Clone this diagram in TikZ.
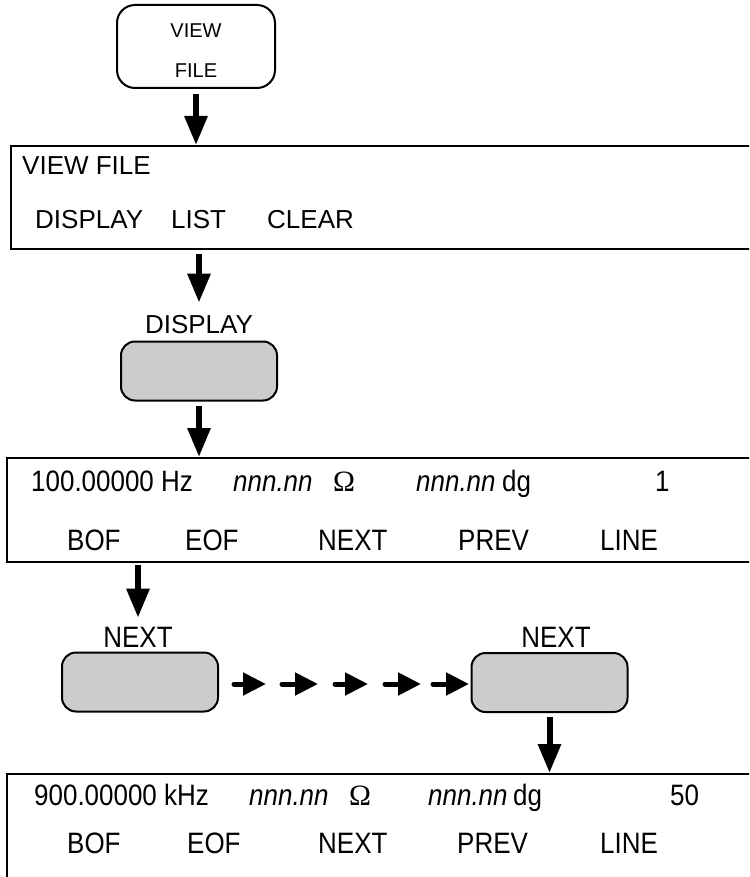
\documentclass[tikz,border=0pt]{standalone}
\usepackage{fontspec}
\setmainfont{Liberation Sans}
\newfontfamily\narrowfont[FakeStretch=0.88]{Liberation Sans}
\newfontfamily\omegafont{Liberation Serif}
\usepackage{tikz}
\usetikzlibrary{%
  arrows.meta,
  positioning,calc
}
\definecolor{keygray}{RGB}{204,204,204}
\tikzset{
  screen/.style={draw,line width=2pt,anchor=north west,inner sep=0pt},
  hardkey/.style={draw,line width=2pt,rounded corners=18pt,minimum width=158pt,minimum height=83pt,inner sep=0pt},
  softkey/.style={draw,line width=2pt,fill=keygray,rounded corners=14pt,minimum width=156pt,minimum height=59pt,inner sep=0pt},
  txt/.style={anchor=base west,inner sep=0pt,font=\fontsize{26}{30}\selectfont},
  lcd/.style={anchor=base west,inner sep=0pt,font=\narrowfont\fontsize{29.5}{32}\selectfont},
  keylabel/.style={inner sep=0pt,font=\fontsize{26}{30}\selectfont},
  nextlabel/.style={inner sep=0pt,font=\narrowfont\fontsize{29.5}{32}\selectfont},
  flow/.style={-{Triangle[length=29pt,width=22pt]},line width=6pt},
  hop/.style={-{Triangle[length=23pt,width=22pt]},line width=5pt,line cap=round}
}

\begin{document}
\begin{tikzpicture}[x=1pt,y=-1pt]
  \useasboundingbox (0,0) rectangle (749,877);
  \clip (0,0) rectangle (749,877);

  \node[hardkey] (viewkey) at (196,46.5) {};
  \node[inner sep=0pt,align=center,font=\fontsize{20}{40}\selectfont] (viewkeytext) at ([yshift=-4.5pt]viewkey.center) {VIEW\\FILE};

  \node[screen,minimum width=760pt,minimum height=103pt] (viewscr) at (10,145) {};
  \node[txt] (viewtitle) at (22,175) {VIEW FILE};
  \foreach \x/\t[count=\i] in {35/DISPLAY,171/LIST,267/CLEAR}
    \node[txt] (viewsoft\i) at (\x,229) {\t};

  \node[keylabel] (displabel) at (199,325) {DISPLAY};
  \node[softkey] (dispkey) at (199,371) {};

  \node[screen,minimum width=764pt,minimum height=104pt] (firstscr) at (6,457) {};
  \foreach \x/\t[count=\i] in {31/100.00000 Hz,233/\textit{nnn.nn},333/{\omegafont Ω},416/\textit{nnn.nn},502/dg,655/1}
    \node[lcd] (firstval\i) at (\x,491) {\t};
  \foreach \x/\t[count=\i] in {67/BOF,185/EOF,318/NEXT,458/PREV,600/LINE}
    \node[lcd] (firstsoft\i) at (\x,550) {\t};

  \node[nextlabel] (nextlabela) at (138,637) {NEXT};
  \node[softkey] (nextkeya) at (140,682) {};
  \node[nextlabel] (nextlabelb) at (556,637) {NEXT};
  \node[softkey] (nextkeyb) at (549.5,682.5) {};

  \node[screen,minimum width=764pt,minimum height=120pt] (lastscr) at (6,773) {};
  \foreach \x/\t[count=\i] in {34/900.00000 kHz,249/\textit{nnn.nn},349/{\omegafont Ω},428/\textit{nnn.nn},513/dg,670/50}
    \node[lcd] (lastval\i) at (\x,805) {\t};
  \foreach \x/\t[count=\i] in {67/BOF,187/EOF,318/NEXT,457/PREV,600/LINE}
    \node[lcd] (lastsoft\i) at (\x,853) {\t};

  \draw[flow,shorten <=5pt] (viewkey.south) -- (viewkey.south |- viewscr.north);
  \draw[flow,shorten <=4pt,shorten >=13pt] (displabel.north |- viewscr.south) -- (displabel.north);
  \draw[flow,shorten <=4pt] (dispkey.south) -- (dispkey.south |- firstscr.north);
  \draw[flow,shorten <=2pt,shorten >=9pt] (nextlabela.north |- firstscr.south) -- (nextlabela.north);
  \draw[flow,shorten <=4pt] (nextkeyb.south) -- (nextkeyb.south |- lastscr.north);

  \foreach \xa/\xb[count=\i] in {234/266,282/318,335/368,385/421,433/469} {
    \coordinate (hopa\i) at (\xa,684);
    \coordinate (hopb\i) at (\xb,684);
    \draw[hop] (hopa\i) -- (hopb\i);
  }
\end{tikzpicture}
\end{document}
